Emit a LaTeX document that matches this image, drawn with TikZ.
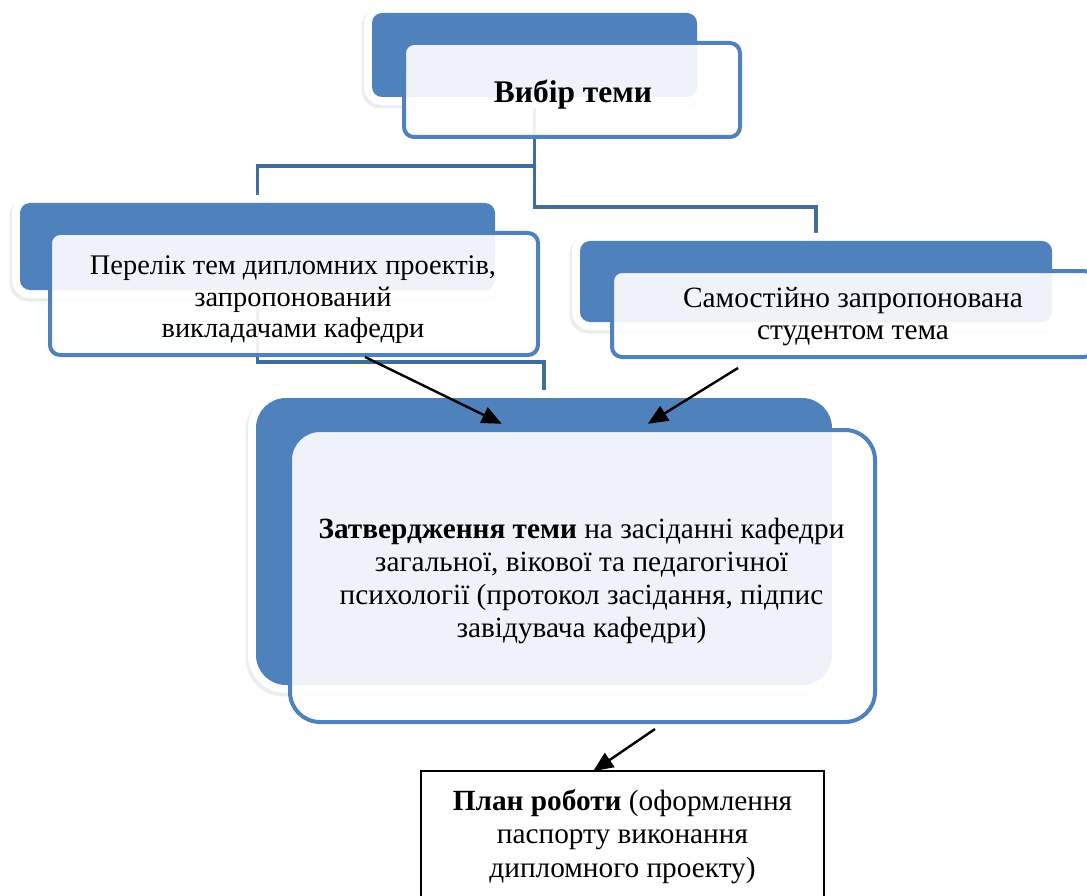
\documentclass[tikz,border=0pt]{standalone}
\usepackage{fontspec}
\setmainfont{Liberation Serif}
\usetikzlibrary{arrows.meta,calc}
\definecolor{blueA}{RGB}{79,129,189}
\definecolor{connC}{RGB}{65,109,158}
\tikzset{
  backbox/.style={rounded corners=#1, fill=blueA, line join=round, inner sep=0pt,
    preaction={fill=black!7, draw=black!7, line width=17pt, rounded corners=#1,
      transform canvas={shift={(-2pt,-3pt)}}},
    preaction={fill=white, draw=white, line width=16pt, rounded corners=#1}},
  backbox/.default=10pt,
  frontbox/.style={rounded corners=#1, draw=blueA, line width=4pt, fill=white,
    fill opacity=0.91, inner sep=0pt},
  frontbox/.default=10pt,
  txt/.style={inner sep=0pt, align=center},
  conn/.style={draw=connC, line width=3.5pt},
  arr/.style={draw=black, line width=2.4pt, -{Triangle[length=20pt,width=17pt]}},
  planbox/.style={draw=black, line width=1.6pt, fill=white, inner sep=0pt},
}
\begin{document}
\begin{tikzpicture}[x=1pt,y=-1pt]
\clip (0,0) rectangle (1087,896);
\fill[white] (0,0) rectangle (1087,896);
% back box positions
\coordinate (topc) at (534.5,55);
\coordinate (leftc) at (257.5,246.5);
\coordinate (rightc) at (816,281.5);
\coordinate (bigc) at (544,541.5);
% connectors (behind the boxes)
\draw[conn] (topc) -- (topc |- 0,166) -| (leftc);
\draw[conn] (topc) -- (topc |- 0,207) -| (rightc);
\draw[conn] (leftc) -- (leftc |- 0,362) -| (bigc);
% back boxes
\node[backbox, minimum width=325pt, minimum height=84pt] (topback) at (topc) {};
\node[backbox, minimum width=475pt, minimum height=87pt] (leftback) at (leftc) {};
\node[backbox, minimum width=472pt, minimum height=81pt] (rightback) at (rightc) {};
\node[backbox=30pt, minimum width=576pt, minimum height=287pt] (bigback) at (bigc) {};
% front boxes
\node[frontbox, minimum width=336pt, minimum height=94pt] (top) at (572,90) {};
\node[frontbox, minimum width=488pt, minimum height=122pt] (left) at (294,294) {};
\node[frontbox, minimum width=482pt, minimum height=86pt] (right) at (853,314) {};
\node[frontbox=30pt, minimum width=585pt, minimum height=292pt] (big) at (582.5,576) {};
% plan box
\node[planbox, minimum width=403pt, minimum height=131pt] (plan) at (622.5,836.5) {};
% texts
\node[txt, font=\fontsize{31.5}{35}\selectfont] (toptext) at ($(top.center)+(1,5)$)
  {\textbf{Вибір теми}};
\node[txt, font=\fontsize{28.4}{31.5}\selectfont] (lefttext) at ($(left.center)+(-1,6)$)
  {Перелік тем дипломних проектів,\\ запропонований\\ викладачами кафедри};
\node[txt, font=\fontsize{29.4}{32}\selectfont] (righttext) at ($(right.center)+(0,3)$)
  {Самостійно запропонована\\ студентом тема};
\node[txt, font=\fontsize{29.3}{32.7}\selectfont] (bigtext) at ($(big.center)+(-1,5)$)
  {\textbf{Затвердження теми} на засіданні кафедри\\ загальної, вікової та педагогічної\\ психології (протокол засідання, підпис\\ завідувача кафедри)};
\node[txt, font=\fontsize{29.3}{33.5}\selectfont] (plantext) at ($(plan.center)+(0,0)$)
  {\textbf{План роботи} (оформлення\\ паспорту виконання\\ дипломного проекту)};
% arrows
\coordinate (a1s) at ($(left.south west)+(317,0)$);
\coordinate (a1e) at ($(bigback.north west)+(246,26)$);
\coordinate (a2s) at ($(right.south west)+(128,9)$);
\coordinate (a2e) at ($(bigback.north west)+(392,26)$);
\coordinate (a3s) at ($(big.south west)+(367,5)$);
\coordinate (a3e) at ($(plan.north west)+(173,1)$);
\draw[arr] (a1s) -- (a1e);
\draw[arr] (a2s) -- (a2e);
\draw[arr] (a3s) -- (a3e);
\end{tikzpicture}
\end{document}
